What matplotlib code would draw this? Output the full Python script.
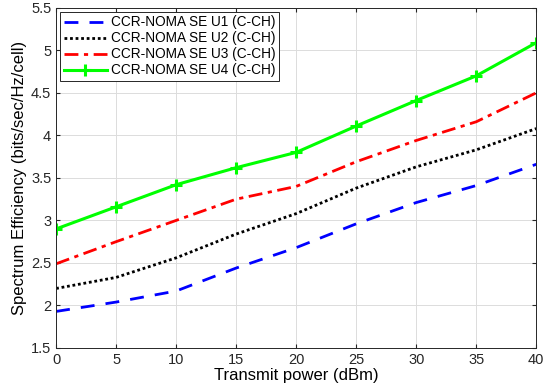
import numpy as np
import matplotlib.pyplot as plt

plt.rcParams['font.family'] = ['Liberation Sans', 'DejaVu Sans']
plt.rcParams['font.size'] = 10.5

power = [0, 5, 10, 15, 20, 25, 30, 35, 40]
se_u1 = [1.93, 2.04, 2.17, 2.44, 2.68, 2.96, 3.21, 3.41, 3.66]
se_u2 = [2.20, 2.33, 2.56, 2.84, 3.08, 3.38, 3.63, 3.83, 4.08]
se_u3 = [2.49, 2.75, 3.00, 3.25, 3.40, 3.69, 3.94, 4.16, 4.50]
se_u4 = [2.90, 3.16, 3.42, 3.62, 3.80, 4.11, 4.41, 4.70, 5.09]

fig = plt.figure(figsize=(5.5, 3.91), dpi=100)
ax = fig.add_axes([0.102, 0.110, 0.873, 0.870])

ax.plot(power, se_u1, color='blue', linestyle=(0, (5, 4)), linewidth=2,
        label='CCR-NOMA SE U1 (C-CH)')
ax.plot(power, se_u2, color='black', linestyle=(0, (1, 1)), linewidth=2,
        label='CCR-NOMA SE U2 (C-CH)')
ax.plot(power, se_u3, color='red', linestyle=(0, (5, 2, 1.5, 2)), linewidth=2,
        label='CCR-NOMA SE U3 (C-CH)')
ax.plot(power, se_u4, color='#00ff00', linestyle='-', linewidth=2.2, marker='+',
        markersize=8, markeredgewidth=2.2, label='CCR-NOMA SE U4 (C-CH)')

ax.set_xlim(0, 40)
ax.set_ylim(1.5, 5.5)
ax.set_xticks(power)
ax.set_yticks(np.arange(1.5, 5.51, 0.5))
ax.set_yticklabels(['1.5', '2', '2.5', '3', '3.5', '4', '4.5', '5', '5.5'])
ax.tick_params(direction='in', top=True, right=True, length=3, colors='#262626')
ax.grid(True, color='#dcdcdc', linewidth=0.7)
ax.set_axisbelow(True)
for s in ax.spines.values():
    s.set_color('#262626')
    s.set_linewidth(0.7)

ax.set_xlabel('Transmit power (dBm)', fontsize=12, labelpad=1)
ax.set_ylabel('Spectrum Efficiency (bits/sec/Hz/cell)', fontsize=12, labelpad=3)

leg = ax.legend(loc='upper left', fontsize=9.8, handlelength=3.2, borderaxespad=0.3,
                labelspacing=0.15, handletextpad=0.3, borderpad=0.25,
                fancybox=False, edgecolor='#262626', framealpha=1)
leg.get_frame().set_linewidth(0.7)

fig.savefig('out.png', dpi=100)
